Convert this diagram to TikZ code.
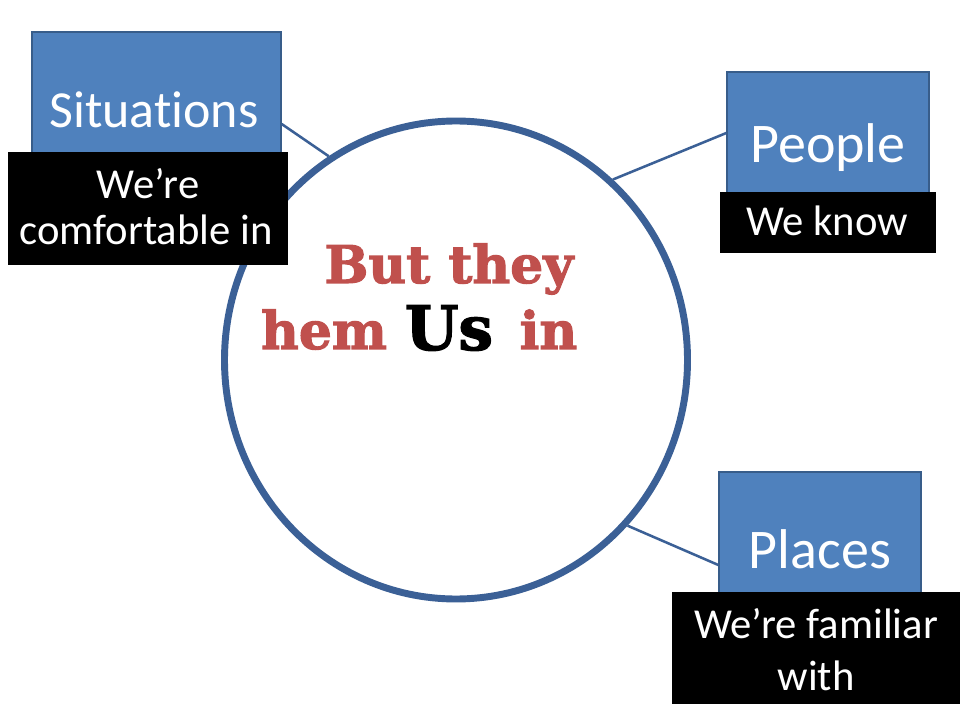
\documentclass[tikz,border=0pt]{standalone}
\usepackage{fontspec}
\setmainfont{Carlito}
\newfontfamily\nolig[Ligatures=NoCommon]{Carlito}
\newfontfamily\headfont[BoldFeatures={FakeBold=2}]{DejaVu Serif}
\usetikzlibrary{shapes.geometric}
\definecolor{boxblue}{HTML}{4F81BD}
\definecolor{boxedge}{HTML}{385D8A}
\definecolor{ringblue}{HTML}{3B6096}
\definecolor{headred}{HTML}{C0504D}
\begin{document}
\begin{tikzpicture}[x=0.75pt,y=-0.75pt,
  bluebox/.style={draw=boxedge, line width=1pt, fill=boxblue, inner sep=0pt},
  blackbox/.style={fill=black, inner sep=0pt},
  bigtext/.style={text=white, anchor=base, inner sep=0pt, font=\fontsize{42}{50}\selectfont},
  smalltext/.style={text=white, anchor=base, inner sep=0pt, font=\fontsize{32}{38}\selectfont},
  headtext/.style={text=headred, anchor=base, inner sep=0pt, font=\headfont\bfseries\fontsize{39}{46}\selectfont},
  link/.style={draw=ringblue, line width=1.9pt}]
\useasboundingbox[fill=white] (0,0) rectangle (960,720);
% ring
\node[ellipse, draw=ringblue, line width=5.2pt, minimum width=347.25pt, minimum height=358.5pt, inner sep=0pt] (ring) at (456,360) {};
% blue boxes
\node[bluebox, minimum width=186.75pt, minimum height=138pt] (sitbox) at (156.5,124) {};
\node[bluebox, minimum width=151.5pt, minimum height=91.5pt] (pplbox) at (828,133) {};
\node[bluebox, minimum width=151.5pt, minimum height=139.5pt] (plcbox) at (820,565) {};
% connectors
\draw[link] (sitbox.east) -- (ring.122.5);
\draw[link] (pplbox.west) -- (ring.49.2);
\draw[link] (plcbox.west) -- (ring.-44.2);
% labels in blue boxes
\node[bigtext, font=\nolig\fontsize{39}{46}\selectfont] (sitlabel) at (154,128) {Situations};
\node[bigtext] (ppllabel) at (828,163) {People};
\node[bigtext] (plclabel) at (820,568) {Places};
% black boxes
\node[blackbox, minimum width=210pt, minimum height=84.75pt] (sitnote) at (148,208.5) {};
\node[blackbox, minimum width=162pt, minimum height=45.75pt] (pplnote) at (828,222.5) {};
\node[blackbox, minimum width=216pt, minimum height=84pt] (plcnote) at (816,648) {};
\node[smalltext] (sitnoteA) at (148,199) {We’re};
\node[smalltext] (sitnoteB) at (146,245) {comfortable in};
\node[smalltext] (pplnoteA) at (827,236) {We know};
\node[smalltext] (plcnoteA) at (816,638) {We’re familiar};
\node[smalltext] (plcnoteB) at (816,690) {with};
% heading
\node[headtext] (headA) at (449,283) {But they};
\node[headtext] (headB) at (324,349) {hem};
\node[headtext, text=black, font=\headfont\bfseries\fontsize{46}{52}\selectfont] (headUs) at (449,350) {Us};
\node[headtext] (headC) at (548.5,349) {in};
\end{tikzpicture}
\end{document}
